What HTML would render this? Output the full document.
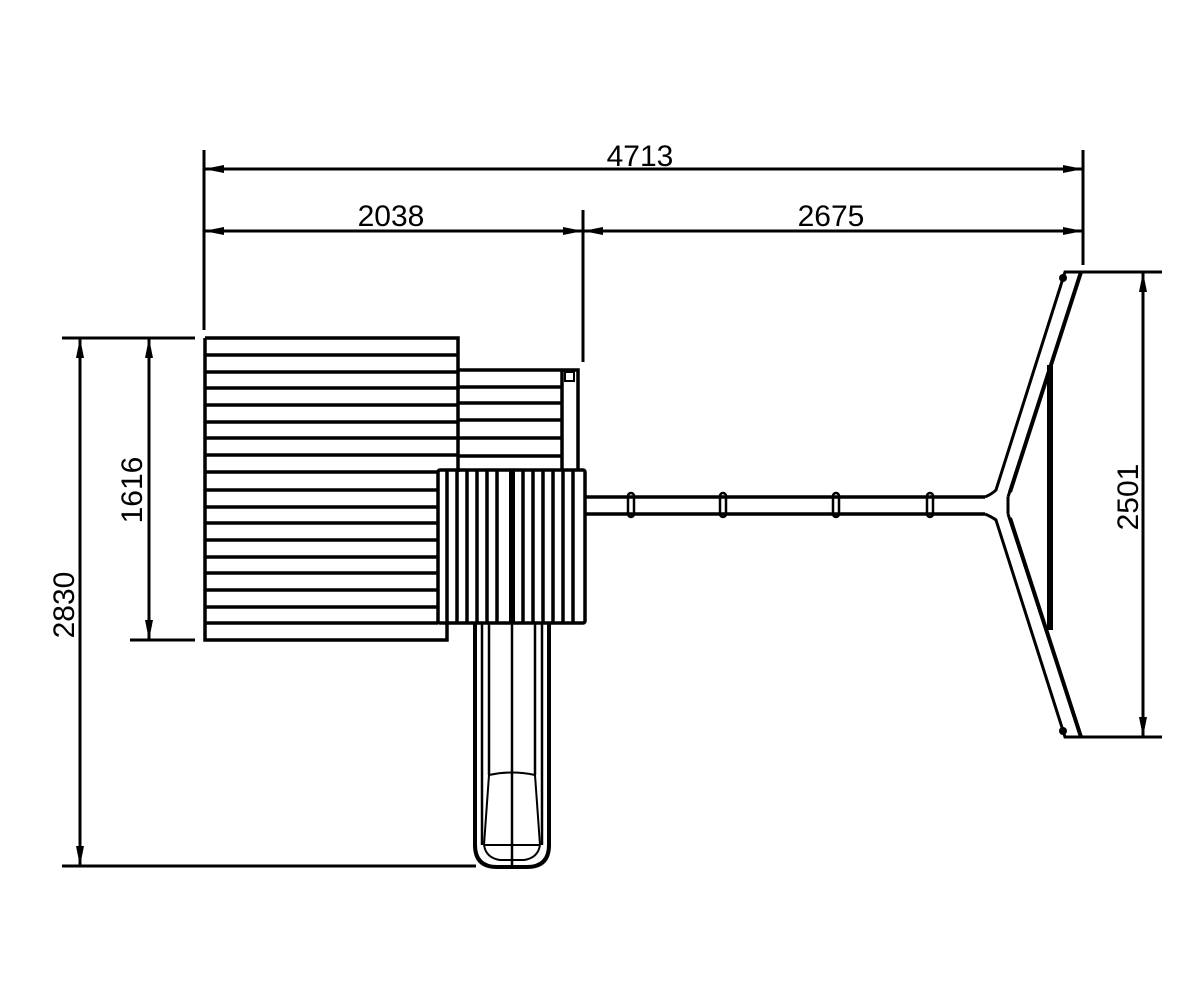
<!DOCTYPE html>
<html><head><meta charset="utf-8"><style>
html,body{margin:0;padding:0;background:#fff;}
svg{display:block}
text{font-family:"Liberation Sans",sans-serif;font-size:30px;fill:#000;}
</style></head><body>
<svg width="1200" height="1000" viewBox="0 0 1200 1000" xmlns="http://www.w3.org/2000/svg">
<defs>
<marker id="a" viewBox="0 0 20 8" refX="20" refY="4" markerWidth="20" markerHeight="8" markerUnits="userSpaceOnUse" orient="auto-start-reverse">
<path d="M0,0 L20,4 L0,8 Z" fill="#000"/></marker>
</defs>
<g stroke="#000" stroke-width="3" fill="none">
<line x1="204" y1="150" x2="204" y2="330"/>
<line x1="1083" y1="150" x2="1083" y2="265"/>
<line x1="583" y1="210" x2="583" y2="362"/>
<line x1="204" y1="169" x2="1083" y2="169" marker-start="url(#a)" marker-end="url(#a)"/>
<line x1="204" y1="231" x2="583" y2="231" marker-start="url(#a)" marker-end="url(#a)"/>
<line x1="583" y1="231" x2="1083" y2="231" marker-start="url(#a)" marker-end="url(#a)"/>
<line x1="62" y1="338" x2="195" y2="338"/>
<line x1="130" y1="640" x2="195" y2="640"/>
<line x1="62" y1="866" x2="476" y2="866"/>
<line x1="80" y1="338" x2="80" y2="866" marker-start="url(#a)" marker-end="url(#a)"/>
<line x1="149" y1="338" x2="149" y2="640" marker-start="url(#a)" marker-end="url(#a)"/>
<line x1="1075" y1="272" x2="1162" y2="272"/>
<line x1="1075" y1="737" x2="1162" y2="737"/>
<line x1="1143" y1="272" x2="1143" y2="737" marker-start="url(#a)" marker-end="url(#a)"/>
</g>
<text x="640" y="166" text-anchor="middle">4713</text>
<text x="391" y="226" text-anchor="middle">2038</text>
<text x="831" y="226" text-anchor="middle">2675</text>
<text transform="translate(142,490) rotate(-90)" text-anchor="middle">1616</text>
<text transform="translate(74,605) rotate(-90)" text-anchor="middle">2830</text>
<text transform="translate(1138,497) rotate(-90)" text-anchor="middle">2501</text>

<g stroke="#000" stroke-width="3.5" fill="none">
<path d="M205,338 H458 V472 M205,338 V640 H447 V623"/>
<path d="M205,355H458 M205,372H458 M205,388H458 M205,405H458 M205,422H458 M205,438H458 M205,455H458 M205,472H438 M205,490H438 M205,507H438 M205,523H438 M205,540H438 M205,557H438 M205,573H438 M205,590H438 M205,607H438 M205,623H438"/>
<path d="M458,370 H578 V470 M458,387H562 M458,403H562 M458,420H562 M458,438H562 M458,456H562 M562,370V470"/>
<rect x="565" y="372" width="9" height="9" stroke-width="2"/>
<rect x="438" y="470" width="147" height="153" rx="2"/>
<path d="M447,470V623 M457,470V623 M467,470V623 M477,470V623 M487,470V623 M497,470V623 M523,470V623 M533,470V623 M543,470V623 M553,470V623 M563,470V623 M573,470V623"/>
<line x1="512" y1="470" x2="512" y2="623" stroke-width="6"/>
<path d="M475,623 V845 Q475,867 497,867 H527 Q549,867 549,845 V623" stroke-width="4"/>
<path d="M482,623 V845 M542,623 V845 M489,623 V775 M535,623 V775 M512,623 V867" stroke-width="2.5"/>
<path d="M489,775 Q512,770 535,775 L540,845 M489,775 L484,845 M484,845 H540 M484,845 Q486,858 500,860 H524 Q538,858 540,845" stroke-width="2"/>
<path d="M585,497 H985 M585,514 H985" stroke-width="3.5"/>
<g stroke-width="2.5">
<rect x="628" y="493" width="6" height="24" rx="3"/>
<rect x="720" y="493" width="6" height="24" rx="3"/>
<rect x="833" y="493" width="6" height="24" rx="3"/>
<rect x="927" y="493" width="6" height="24" rx="3"/>
</g>
<path d="M985,497 Q992,494 996,490 L1065,272 H1083 M1008,497 L1081,272" stroke-width="3"/>
<path d="M985,514 Q992,517 996,520 L1065,737 H1083 M1008,514 L1081,737" stroke-width="3"/>
<path d="M1008,497 V514" stroke-width="3"/>
<path d="M1010,492 L1081,272 M1010,518 L1081,737" stroke-width="4"/>
<line x1="1050" y1="365" x2="1050" y2="630" stroke-width="6"/>
<circle cx="1063" cy="278" r="4" fill="#000" stroke="none"/>
<circle cx="1063" cy="731" r="4" fill="#000" stroke="none"/>
</g>
</svg>
</body></html>
